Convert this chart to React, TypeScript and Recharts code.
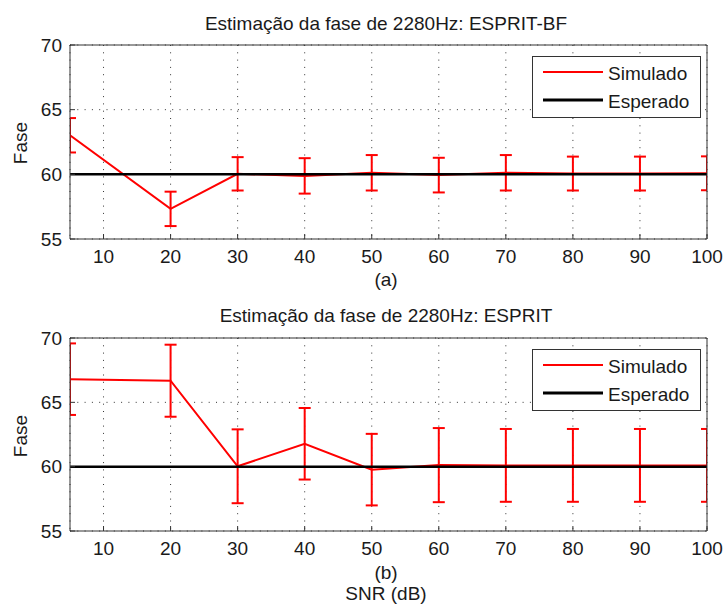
import React from 'react';
import {
  CartesianGrid,
  ComposedChart,
  ErrorBar,
  Legend,
  Line,
  XAxis,
  YAxis,
} from 'recharts';

// SNR (dB) values where the phase was estimated
const snr = [5, 20, 30, 40, 50, 60, 70, 80, 90, 100];

// (a) ESPRIT-BF
const bfMean = [63.02, 57.33, 60.04, 59.88, 60.12, 59.94, 60.12, 60.06, 60.06, 60.08];
const bfStd = [1.33, 1.33, 1.29, 1.37, 1.37, 1.34, 1.37, 1.31, 1.31, 1.31];

// (b) ESPRIT
const espritMean = [66.8, 66.68, 60.03, 61.78, 59.77, 60.12, 60.1, 60.1, 60.1, 60.1];
const espritStd = [2.78, 2.8, 2.87, 2.78, 2.78, 2.88, 2.83, 2.83, 2.83, 2.83];

// expected phase
const expected = [60, 60, 60, 60, 60, 60, 60, 60, 60, 60];

const xTicks = [10, 20, 30, 40, 50, 60, 70, 80, 90, 100];
const yTicks = [55, 60, 65, 70];
const legendOrder = ['Simulado', 'Esperado'];

const FONT = '"Liberation Sans", Arial, Helvetica, sans-serif';
const TEXT = '#1a1a1a';
const AXIS = '#333';
const W = 724;
const FS = 19;
const PLOT_LEFT = 70;
const PLOT_RIGHT = 707;

const legendWidths: Record<string, number> = { Simulado: 2, Esperado: 3 };

function LegendBox({ payload }: { payload?: Array<{ value?: string; color?: string }> }) {
  const items = [...(payload || [])].sort(
    (a, b) => legendOrder.indexOf(String(a.value)) - legendOrder.indexOf(String(b.value)),
  );
  return (
    <div
      style={{
        position: 'relative',
        width: 169,
        height: 62,
        boxSizing: 'border-box',
        border: `1px solid ${AXIS}`,
        background: '#fff',
        fontFamily: FONT,
        fontSize: FS,
        color: TEXT,
      }}
    >
      <svg width={169} height={62} style={{ position: 'absolute', left: -1, top: -1 }}>
        {items.map((item, i) => (
          <line
            key={String(item.value)}
            x1={11}
            x2={71}
            y1={16 + i * 28}
            y2={16 + i * 28}
            stroke={item.color}
            strokeWidth={legendWidths[String(item.value)] || 2}
          />
        ))}
      </svg>
      {items.map((item, i) => (
        <div
          key={String(item.value)}
          style={{ position: 'absolute', left: 75, top: 24 + i * 28 - 16 - 1, lineHeight: `${FS}px`, whiteSpace: 'nowrap' }}
        >
          {item.value}
        </div>
      ))}
    </div>
  );
}

function Caption({ text, baseline, cx = 386 }: { text: string; baseline: number; cx?: number }) {
  return (
    <div
      style={{
        position: 'absolute',
        left: cx - 250,
        width: 500,
        top: baseline - 16,
        textAlign: 'center',
        fontSize: FS,
        lineHeight: `${FS}px`,
        color: TEXT,
        whiteSpace: 'nowrap',
      }}
    >
      {text}
    </div>
  );
}

function Panel({
  id,
  top,
  height,
  plotTop,
  plotBottom,
  title,
  titleBase,
  caption,
  captionBase,
  mean,
  std,
  children,
}: {
  id: string;
  top: number;
  height: number;
  plotTop: number;
  plotBottom: number;
  title: string;
  titleBase: number;
  caption: string;
  captionBase: number;
  mean: number[];
  std: number[];
  children?: React.ReactNode;
}) {
  const data = snr.map((x, i) => ({ snr: x, sim: mean[i], err: std[i], esp: expected[i] }));
  const yCenter = (plotTop + plotBottom) / 2 + 1;
  const clipId = `clip-${id}`;

  return (
    <div id={id} style={{ position: 'absolute', left: 0, top, width: W, height }}>
      {/* error bars at the axis limits are cut by the plot box, as in the original */}
      <style>{`#${id} [class*="errorBar"] { clip-path: url(#${clipId}); }`}</style>
      <svg width={0} height={0} style={{ position: 'absolute' }}>
        <defs>
          <clipPath id={clipId} clipPathUnits="userSpaceOnUse">
            <rect x={PLOT_LEFT} y={plotTop} width={PLOT_RIGHT - PLOT_LEFT} height={plotBottom - plotTop} />
          </clipPath>
        </defs>
      </svg>
      <ComposedChart
        width={W}
        height={height}
        data={data}
        margin={{ top: plotTop - 1, right: W - PLOT_RIGHT - 1, left: PLOT_LEFT - 60, bottom: height - plotBottom - 30 }}
      >
        <CartesianGrid stroke={AXIS} strokeDasharray="1 6.3" strokeWidth={1} />
        <XAxis
          dataKey="snr"
          type="number"
          domain={[5, 100]}
          ticks={xTicks}
          interval={0}
          allowDataOverflow
          height={30}
          tickSize={-5}
          tickMargin={15.5}
          stroke={AXIS}
          tick={{ fontSize: FS, fill: TEXT, fontFamily: FONT }}
        />
        <XAxis
          xAxisId="top"
          orientation="top"
          type="number"
          domain={[5, 100]}
          ticks={xTicks}
          interval={0}
          allowDataOverflow
          height={1}
          tick={false}
          tickSize={-5}
          stroke={AXIS}
        />
        <YAxis
          type="number"
          domain={[55, 70]}
          ticks={yTicks}
          interval={0}
          width={60}
          tickSize={-5}
          tickMargin={13}
          stroke={AXIS}
          tick={{ fontSize: FS, fill: TEXT, fontFamily: FONT }}
        />
        <YAxis
          yAxisId="right"
          orientation="right"
          type="number"
          domain={[55, 70]}
          ticks={yTicks}
          interval={0}
          width={1}
          tick={false}
          tickSize={-5}
          stroke={AXIS}
        />
        <Line
          type="linear"
          dataKey="sim"
          name="Simulado"
          stroke="#ff0000"
          strokeWidth={2}
          dot={false}
          activeDot={false}
          isAnimationActive={false}
        >
          <ErrorBar
            dataKey="err"
            direction="y"
            width={6}
            stroke="#ff0000"
            strokeWidth={2}
            isAnimationActive={false}
          />
        </Line>
        <Line
          type="linear"
          dataKey="esp"
          name="Esperado"
          stroke="#000"
          strokeWidth={2.5}
          dot={false}
          activeDot={false}
          isAnimationActive={false}
        />
        <Legend
          layout="vertical"
          align="center"
          verticalAlign="middle"
          wrapperStyle={{ left: 532, top: plotTop + 11, width: 169, height: 62 }}
          content={(props: any) => <LegendBox payload={props.payload} />}
        />
      </ComposedChart>

      <Caption text={title} baseline={titleBase} />
      <Caption text={caption} baseline={captionBase} />
      {children}

      <div
        style={{
          position: 'absolute',
          left: 21 - 40,
          top: yCenter - 11,
          width: 80,
          height: 22,
          lineHeight: '22px',
          textAlign: 'center',
          fontSize: FS,
          color: TEXT,
          transform: 'rotate(-90deg)',
        }}
      >
        Fase
      </div>
    </div>
  );
}

export default function App() {
  return (
    <div
      style={{
        position: 'absolute',
        left: 0,
        top: 0,
        width: W,
        height: 608,
        background: '#fff',
        fontFamily: FONT,
        overflow: 'hidden',
      }}
    >
      <Panel
        id="panel-a"
        top={0}
        height={300}
        plotTop={45}
        plotBottom={239}
        title="Estimação da fase de 2280Hz: ESPRIT-BF"
        titleBase={30}
        caption="(a)"
        captionBase={286}
        mean={bfMean}
        std={bfStd}
      />
      <Panel
        id="panel-b"
        top={300}
        height={308}
        plotTop={38}
        plotBottom={231}
        title="Estimação da fase de 2280Hz: ESPRIT"
        titleBase={22}
        caption="(b)"
        captionBase={279}
        mean={espritMean}
        std={espritStd}
      >
        <Caption text="SNR (dB)" baseline={300} />
      </Panel>
    </div>
  );
}
